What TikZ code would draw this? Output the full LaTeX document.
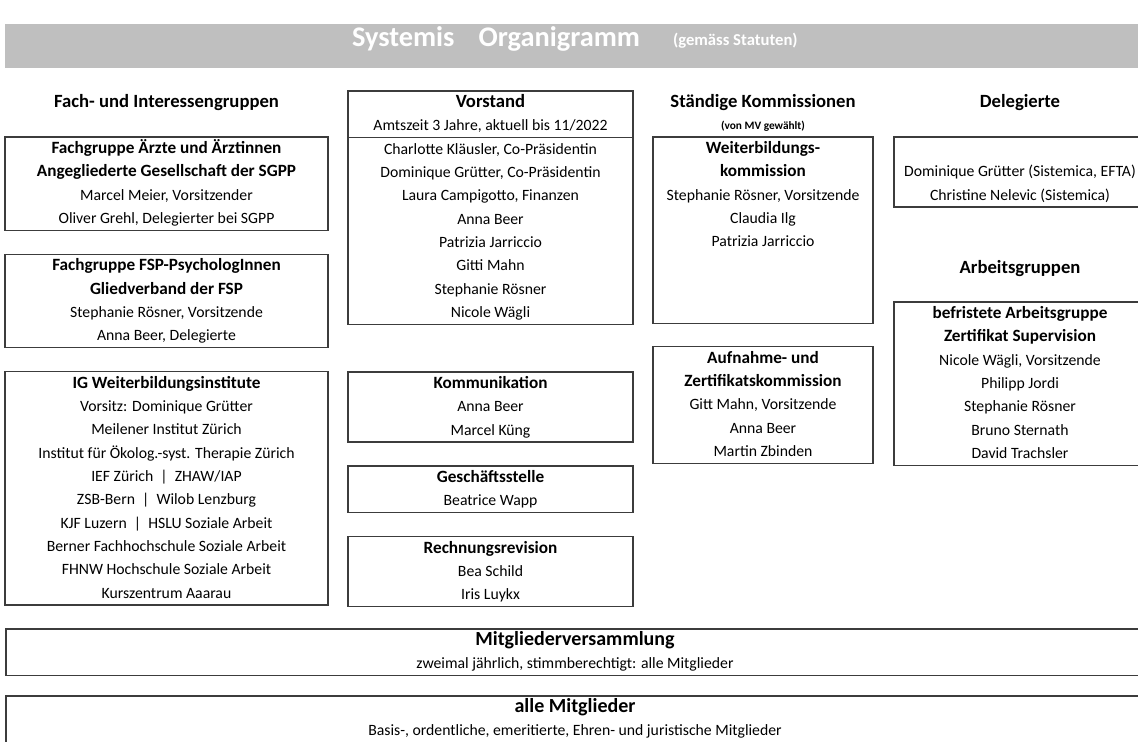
\documentclass[tikz,border=0pt]{standalone}
\usepackage{fontspec}
\setmainfont{Carlito}
\usetikzlibrary{positioning}

\definecolor{bargray}{RGB}{191,191,191}
\definecolor{framegray}{RGB}{60,60,60}

\newcommand{\bodyfont}{\fontsize{11.8}{17.5}\selectfont}
\newcommand{\bighead}[1]{{\fontsize{14}{17.5}\selectfont\bfseries #1}}
\newcommand{\mvhead}[1]{{\fontsize{15}{17.5}\selectfont\bfseries #1}}
\newcommand{\bline}[1]{{\fontsize{12.9}{17.5}\selectfont\bfseries #1}}

\begin{document}
\begin{tikzpicture}[x=0.75pt,y=-0.75pt,every node/.style={inner sep=0pt,outer sep=0pt}]

% Define block styles
\tikzstyle{box} = [draw=framegray, line width=0.8pt, align=center, font=\bodyfont, anchor=north west]
\tikzstyle{leftbox} = [box, minimum width=242.25pt]
\tikzstyle{midbox} = [box, minimum width=213.75pt]
\tikzstyle{kombox} = [box, minimum width=165pt]
\tikzstyle{rightbox} = [box, minimum width=189pt]
\tikzstyle{widebox} = [box, minimum width=853.5pt]
\tikzstyle{head} = [font=\fontsize{14}{17}\selectfont\bfseries, anchor=base]

\path[use as bounding box, clip] (0,0) rectangle (1138,742);

% title bar
\node [fill=bargray, anchor=north west, minimum width=862pt, minimum height=33pt] (bar) at (5,24) {};
\node [anchor=base west, text=white, font=\fontsize{21.3}{25}\selectfont\bfseries] (title) at (352,47) {Systemis\hspace{0.85em}Organigramm};
\node [anchor=base west, text=white, font=\fontsize{12.5}{15}\selectfont\bfseries] (subtitle) at (673,46) {(gemäss Statuten)};

% column heads
\node [head] (fachhead) at (166.5,108) {Fach- und Interessengruppen};
\node [head] (komhead) at (763,108) {Ständige Kommissionen};
\node [anchor=base, font=\fontsize{8.5}{10}\selectfont\bfseries] (komsub) at (763,129) {(von MV gewählt)};
\node [head] (delhead) at (1020,108) {Delegierte};
\node [head] (arbhead) at (1020,273) {Arbeitsgruppen};

% left column
\node [leftbox] (aerzte) at (5,137) {\strut\bline{Fachgruppe Ärzte und Ärztinnen}\\\bline{Angegliederte Gesellschaft der SGPP}\\Marcel Meier, Vorsitzender\\Oliver Grehl, Delegierter bei SGPP\strut};
\node [leftbox, anchor=north, below=18pt of aerzte] (fsp) {\strut\bline{Fachgruppe FSP-PsychologInnen}\\\bline{Gliedverband der FSP}\\Stephanie Rösner, Vorsitzende\\Anna Beer, Delegierte\strut};
\node [leftbox, anchor=north, below=18pt of fsp] (igwb) {\strut\bline{IG Weiterbildungsinstitute}\\Vorsitz: Dominique Grütter\\Meilener Institut Zürich\\Institut für Ökolog.-syst. Therapie Zürich\\IEF Zürich\ \ |\ \ ZHAW/IAP\\ZSB-Bern\ \ |\ \ Wilob Lenzburg\\KJF Luzern\ \ |\ \ HSLU Soziale Arbeit\\Berner Fachhochschule Soziale Arbeit\\FHNW Hochschule Soziale Arbeit\\Kurszentrum Aaarau\strut};

% middle column
\node [midbox] (vorstand) at (348,91) {\strut\bighead{Vorstand}\\Amtszeit 3 Jahre, aktuell bis 11/2022\strut};
\node [midbox, anchor=north, below=0pt of vorstand] (members) {\strut Charlotte Kläusler, Co-Präsidentin\\Dominique Grütter, Co-Präsidentin\\Laura Campigotto, Finanzen\\Anna Beer\\Patrizia Jarriccio\\Gitti Mahn\\Stephanie Rösner\\Nicole Wägli\strut};
\node [midbox] (komm) at (348,372) {\strut\bline{Kommunikation}\\Anna Beer\\Marcel Küng\strut};
\node [midbox, anchor=north, below=18pt of komm] (gst) {\strut\bline{Geschäftsstelle}\\Beatrice Wapp\strut};
\node [midbox, anchor=north, below=18pt of gst] (revision) {\strut\bline{Rechnungsrevision}\\Bea Schild\\Iris Luykx\strut};

% commissions
\node [kombox] (wbk) at (653,137) {\strut\bline{Weiterbildungs-}\\\bline{kommission}\\Stephanie Rösner, Vorsitzende\\Claudia Ilg\\Patrizia Jarriccio\\ \\ \\\strut};
\node [kombox, anchor=north, below=17.25pt of wbk] (azk) {\strut\bline{Aufnahme- und}\\\bline{Zertifikatskommission}\\Gitt Mahn, Vorsitzende\\Anna Beer\\Martin Zbinden\strut};

% right column
\node [rightbox] (deleg) at (894,137) {\strut\\Dominique Grütter (Sistemica, EFTA)\\Christine Nelevic (Sistemica)\strut};
\node [rightbox] (arbgr) at (894,302) {\strut\bline{befristete Arbeitsgruppe}\\\bline{Zertifikat Supervision}\\Nicole Wägli, Vorsitzende\\Philipp Jordi\\Stephanie Rösner\\Bruno Sternath\\David Trachsler\strut};

% general assembly and members
\node [widebox] (mv) at (6,629) {\strut\mvhead{Mitgliederversammlung}\\zweimal jährlich, stimmberechtigt: alle Mitglieder\strut};
\node [widebox] (alle) at (6,696) {\strut\mvhead{alle Mitglieder}\\Basis-, ordentliche, emeritierte, Ehren- und juristische Mitglieder\\\strut};

\end{tikzpicture}
\end{document}
